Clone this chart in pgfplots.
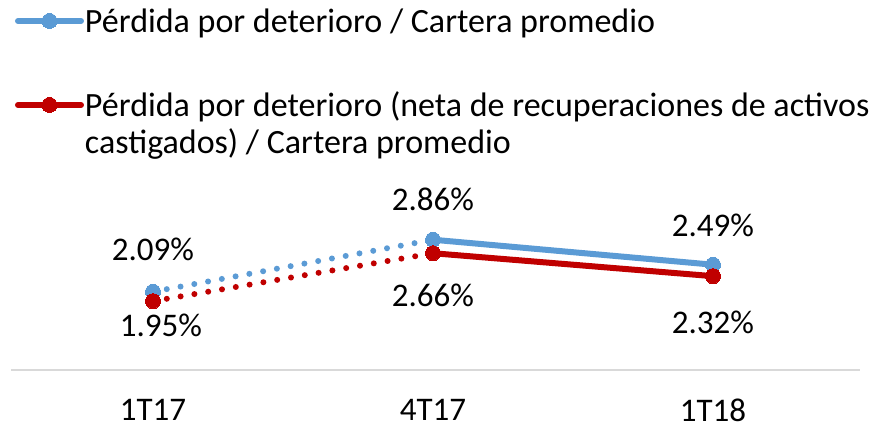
\documentclass[border=0pt]{standalone}
\usepackage{pgfplots}
\usepackage{pgfplotstable}
\pgfplotsset{compat=1.18}
\usepackage{fontspec}
\setmainfont{Carlito}
\definecolor{cblue}{HTML}{5B9BD5}
\definecolor{cred}{HTML}{C00000}
\definecolor{caxis}{HTML}{D9D9D9}

\pgfplotstableread{
x y dx dy
0 2.09 0 21
1 2.86 0 20
2 2.49 0 19.5
}\bluedata
\pgfplotstableread{
x y dx dy
0 1.95 4 -12
1 2.66 0 -21
2 2.32 0 -23
}\reddata

\begin{document}
\begin{tikzpicture}
\begin{axis}[
  scale only axis,
  width=420pt, height=69.86pt,
  xmin=-0.5, xmax=2.5, ymin=0.93, ymax=3.0,
  axis x line=bottom, axis y line=none,
  axis line style={-, caxis, line width=1pt},
  x axis line style={shorten <=-1pt, shorten >=-3.5pt},
  xtick={0,1,2}, xticklabels={1T17,4T17,1T18},
  major tick length=0pt,
  x tick label style={anchor=center, inner sep=0pt, yshift=-20pt, font=\fontsize{16.5}{19}\selectfont},
  clip=false,
  legend cell align=left,
  legend style={at={(axis description cs:0,0)}, anchor=north west, xshift=1pt, yshift=182pt,
    draw=none, fill=none, inner sep=0pt, outer sep=0pt, column sep=0.5pt, row sep=3.5pt,
    font=\fontsize{17}{19}\selectfont, nodes={inner xsep=0pt, inner ysep=0pt}},
  legend image code/.code={\draw[#1, line cap=round, mark repeat=2, mark phase=2] plot coordinates {(0pt,0pt) (15.75pt,0pt) (31.5pt,0pt)};},
  nodes near coords={\pgfmathprintnumber[fixed,fixed zerofill,precision=2]{\pgfplotspointmeta}\%},
  /pgf/number format/assume math mode=true,
]
% legend
\addlegendimage{cblue, line width=3pt, mark=*, mark size=3.75pt, mark options={solid, fill=cblue, draw=cblue, line width=0pt}}
\addlegendentry{Pérdida por deterioro / Cartera promedio\rule[-5.5pt]{0pt}{19pt}}
\addlegendimage{empty legend}
\addlegendentry{\rule{0pt}{18.5pt}}
\addlegendimage{cred, line width=3pt, mark=*, mark size=3.75pt, mark options={solid, fill=cred, draw=cred, line width=0pt}}
\addlegendentry{Pérdida por deterioro (neta de recuperaciones de activos\rule[-5.5pt]{0pt}{19pt}}
\addlegendimage{empty legend}
\addlegendentry{castigados) / Cartera promedio\rule[-5.5pt]{0pt}{19pt}}

% blue series
\addplot[forget plot, cblue, line width=3pt, line cap=round, dash pattern=on 0pt off 7pt, no marks, nodes near coords={}] coordinates {(0,2.09) (1,2.86)};
\addplot[forget plot, cblue, line width=3pt, line cap=round, no marks, nodes near coords={}] coordinates {(1,2.86) (2,2.49)};
% red series
\addplot[forget plot, cred, line width=3pt, line cap=round, dash pattern=on 0pt off 7pt, no marks, nodes near coords={}] coordinates {(0,1.95) (1,2.66)};
\addplot[forget plot, cred, line width=3pt, line cap=round, no marks, nodes near coords={}] coordinates {(1,2.66) (2,2.32)};
% markers
\addplot[forget plot, only marks, mark=*, mark size=3.75pt, mark options={fill=cblue, draw=cblue, line width=0pt}, nodes near coords={}] table[x=x,y=y]{\bluedata};
\addplot[forget plot, only marks, mark=*, mark size=3.75pt, mark options={fill=cred, draw=cred, line width=0pt}, nodes near coords={}] table[x=x,y=y]{\reddata};
% labels
\addplot[forget plot, draw=none, mark=none, point meta=y,
  visualization depends on={\thisrow{dx}\as\dx},
  visualization depends on={\thisrow{dy}\as\dy},
  every node near coord/.append style={anchor=center, xshift=\dx pt, yshift=\dy pt, font=\fontsize{16.5}{19}\selectfont, text=black}]
  table[x=x,y=y]{\bluedata};
\addplot[forget plot, draw=none, mark=none, point meta=y,
  visualization depends on={\thisrow{dx}\as\dx},
  visualization depends on={\thisrow{dy}\as\dy},
  every node near coord/.append style={anchor=center, xshift=\dx pt, yshift=\dy pt, font=\fontsize{16.5}{19}\selectfont, text=black}]
  table[x=x,y=y]{\reddata};
\end{axis}
\pgfresetboundingbox
\path[use as bounding box] (current axis.south west) ++(-6.5pt,-28.5pt) rectangle ++(440pt,213.5pt);
\end{tikzpicture}
\end{document}
